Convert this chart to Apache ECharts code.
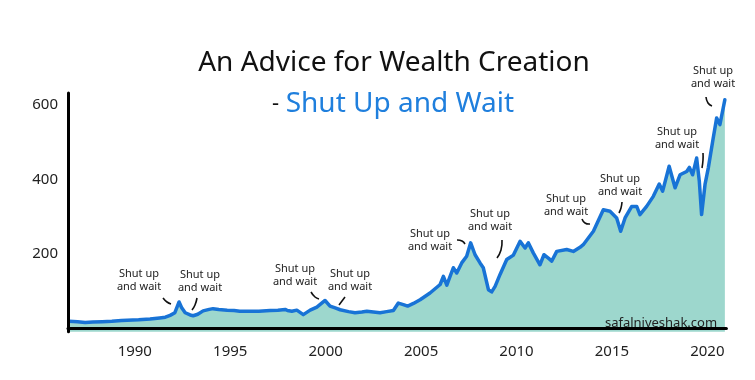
<!DOCTYPE html>
<html>
<head>
<meta charset="utf-8">
<script src="https://cdn.jsdelivr.net/npm/echarts@6/dist/echarts.min.js"></script>
<style>html,body{margin:0;padding:0;background:#fff}#c{width:755px;height:380px}</style>
</head>
<body>
<div id="c"></div>
<script>
// ---- data (decimal year, index level) ----
const years = [1986.55,1987.0,1987.4,1987.8,1988.3,1988.8,1989.3,1989.6,1990.2,1990.8,1991.3,1991.6,1991.85,1992.1,1992.32,1992.45,1992.64,1992.9,1993.06,1993.3,1993.58,1993.9,1994.1,1994.4,1994.84,1995.2,1995.5,1996.0,1996.5,1997.09,1997.5,1997.88,1998.0,1998.23,1998.49,1998.83,1999.19,1999.54,1999.97,2000.23,2000.5,2000.76,2001.2,2001.54,2001.9,2002.16,2002.5,2002.85,2003.2,2003.55,2003.81,2004.07,2004.3,2004.6,2004.95,2005.47,2006.0,2006.17,2006.35,2006.69,2006.87,2007.13,2007.39,2007.6,2007.83,2008.09,2008.26,2008.53,2008.7,2008.88,2009.14,2009.49,2009.84,2010.19,2010.45,2010.62,2010.88,2011.23,2011.44,2011.67,2011.85,2012.11,2012.63,2012.98,2013.33,2013.5,2014.03,2014.55,2014.9,2015.25,2015.46,2015.69,2016.04,2016.3,2016.47,2016.82,2017.17,2017.48,2017.66,2018.0,2018.31,2018.57,2018.92,2019.06,2019.23,2019.44,2019.58,2019.7,2019.88,2020.05,2020.14,2020.31,2020.49,2020.66,2020.92];
const values = [18,17,15,16,17,18,20,21,22,24,27,29,34,41,70,55,41,35,33,37,46,50,52,50,48,47,45,45,45,47,48,50,47,45,48,36,48,56,74,59,54,49,44,41,43,45,43,41,44,47,67,63,59,66,76,94,117,139,115,162,148,175,193,229,197,175,162,103,97,112,144,184,196,233,215,229,202,170,197,188,180,206,211,206,217,224,260,318,314,296,260,296,327,327,305,327,354,387,368,435,377,412,421,432,412,457,395,305,386,430,435,511,565,547,614];
const xTickLabels = [1990,1995,2000,2005,2010,2015,2020];
const yTickLabels = [200,400,600];
const titleText = 'An Advice for Wealth Creation';
const subtitleText = 'Shut Up and Wait';
const noteText = 'Shut up\nand wait';
const watermark = 'safalniveshak.com';

const FONT = '"Noto Sans", sans-serif';
const chart = echarts.init(document.getElementById('c'), null, {renderer: 'canvas'});

// annotation placements (pixel positions of callout text and its small stroke)
const notes = [
  {x:139, y:280, line:[[163,298],[167,302],[171,304]]},
  {x:200, y:281, line:[[197,298],[195,305],[192,310]]},
  {x:295, y:275, line:[[311,292],[315,297],[319,299]]},
  {x:350, y:280, line:[[345,297],[342,301],[339,305]]},
  {x:430, y:240, line:[[457,240],[462,241],[465,244]]},
  {x:490, y:220, line:[[502,240],[501,250],[497,258]]},
  {x:566, y:205, line:[[582,219],[585,223],[590,224]]},
  {x:620, y:185, line:[[622,202],[621,208],[619,213]]},
  {x:677, y:138, line:[[703,153],[703,160],[702,168]]},
  {x:713, y:77,  line:[[706,97],[708,103],[712,106]]}
];

const graphics = [
  {type:'text', x:394, y:63, z:100, style:{text:titleText, font:'normal 28px ' + FONT, fill:'#111', textAlign:'center', textVerticalAlign:'middle'}},
  {type:'text', x:393, y:104, z:100, style:{text:'{d|-}  {b|' + subtitleText + '}', textAlign:'center', textVerticalAlign:'middle',
    rich:{d:{fontSize:22, fontFamily:FONT, fill:'#111', color:'#111'}, b:{fontSize:28, fontFamily:FONT, color:'#1f7fdd', fill:'#1f7fdd'}}}},
  {type:'text', x:661, y:323, z:100, style:{text:watermark, font:'normal 13px ' + FONT, fill:'#222', textAlign:'center', textVerticalAlign:'middle'}}
];
notes.forEach(n => {
  graphics.push({type:'text', x:n.x, y:n.y, z:100, style:{text:noteText, font:'normal 11px ' + FONT, lineHeight:13, fill:'#222', textAlign:'center', textVerticalAlign:'middle'}});
  graphics.push({type:'polyline', z:100, shape:{points:n.line, smooth:0.5}, style:{stroke:'#111', lineWidth:1.6, fill:null}});
});

chart.setOption({
  animation: false,
  backgroundColor: '#ffffff',
  grid: {left:68, right:28.6, top:93, bottom:48.3, containLabel:false},
  xAxis: {
    type:'value', min:1986.5, max:2021, z:10,
    axisLine:{show:true, lineStyle:{color:'#000', width:3}},
    axisTick:{show:false}, splitLine:{show:false},
    axisLabel:{customValues:xTickLabels, formatter:v => String(v), margin:13, fontSize:15, fontFamily:FONT, color:'#222'}
  },
  yAxis: {
    type:'value', min:-10, max:632, z:10,
    axisLine:{show:true, lineStyle:{color:'#000', width:3}},
    axisTick:{show:false}, splitLine:{show:false},
    axisLabel:{customValues:yTickLabels, formatter:v => String(v), margin:10, fontSize:15, fontFamily:FONT, color:'#222'}
  },
  series: [{
    type:'line', data: years.map((y,i)=>[y, values[i]]),
    showSymbol:false, symbol:'none', smooth:false,
    lineStyle:{color:'#1873d6', width:3.5, join:'round', cap:'round'},
    areaStyle:{color:'#9dd7cd', opacity:1, origin:'start'},
    z:2
  }],
  graphic: graphics
});
</script>
</body>
</html>
